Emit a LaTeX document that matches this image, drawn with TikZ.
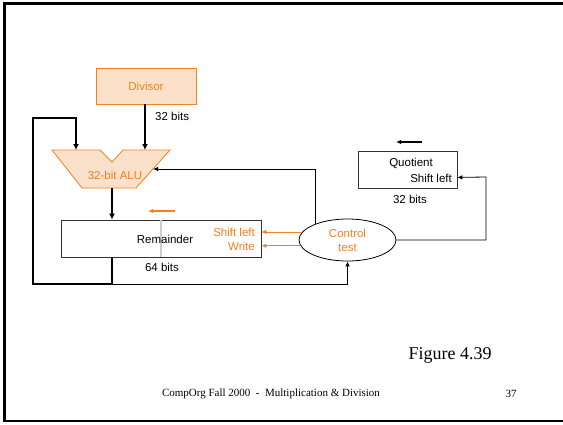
\documentclass[tikz,border=0pt]{standalone}
\usepackage{fontspec}
\setmainfont{Liberation Sans}
\newfontfamily\slideserif{Liberation Serif}
\usetikzlibrary{arrows.meta, shapes, positioning, calc}
\definecolor{dvorange}{RGB}{240,128,32}
\definecolor{dvfill}{RGB}{252,225,202}
\definecolor{regline}{RGB}{205,205,205}

\begin{document}
\begin{tikzpicture}[x=1pt, y=-1pt,
    every node/.style={font=\fontsize{11.5}{14}\selectfont, inner sep=0pt},
    reg/.style={draw=black!80, line width=0.8pt, minimum width=#1, minimum height=37pt},
    bus/.style={line width=2.7pt, -{Latex[length=6pt, width=6pt]}},
    wire/.style={line width=0.8pt, -{Latex[length=5pt, width=4.5pt]}},
    ctlwire/.style={dvorange, line width=1.2pt, -{Latex[length=5pt, width=4.5pt]}}]
    \useasboundingbox (0,0) rectangle (563,424);

    % Draw slide frame
    \draw[line width=2.8pt] (563,3.5) -- (4.5,3.5) -- (4.5,421) -- (563,421);

    % Draw divisor and ALU
    \node[draw=dvorange, fill=dvfill, line width=0.8pt, minimum width=100pt, minimum height=36pt,
          text=dvorange] (divisor) at (146,86) {Divisor};
    \node[anchor=west] (divbits) at (155,116) {32 bits};
    \draw[dvorange, fill=dvfill, line width=0.8pt] (52,150) -- (100,150) -- (112,162) -- (123,150)
        -- (170,150) -- (136,188) -- (82,188) -- cycle;
    \coordinate (alua) at (76,150);
    \coordinate (alub) at (145,150);
    \coordinate (aluout) at (112,188);
    \coordinate (aluin) at (153,169);
    \node[text=dvorange] (alulabel) at (115,175) {32-bit ALU};

    % Draw remainder register
    \node[reg=200pt] (rem) at (161,238.5) {};
    \draw[regline, line width=2pt] (rem.north) -- (rem.south);
    \node (remtxt) at (165,239) {Remainder};
    \node[anchor=east, align=right, text=dvorange] (remctl) at (255,239) {Shift left\\Write};
    \node (rembits) at (162,267) {64 bits};
    \draw[ctlwire] (175,211) -- (148,211);

    % Draw control and quotient
    \node[draw, ellipse, line width=0.8pt, minimum width=97pt, minimum height=42pt,
          align=center, text=dvorange] (ctrl) at (347.5,240) {Control\\test};
    \node[reg=99pt] (quot) at (407.5,169.5) {};
    \node (quottxt) at (411,163) {Quotient};
    \node[anchor=east] (quotctl) at (452,178) {Shift left};
    \node (quotbits) at (410,199) {32 bits};
    \draw[line width=1.4pt, -{Latex[length=5pt, width=4.5pt]}] (422,142) -- (396,142);

    % Draw the data paths
    \coordinate (loopbr) at (112,284);
    \coordinate (loopup) at (33,118);
    \coordinate (qturn) at (486,177);
    \draw[bus] (divisor.south -| alub) -- (alub);
    \draw[bus] (aluout) -- (rem.north -| aluout);
    \draw[bus] (rem.south -| aluout) -- (loopbr) -| (loopup) -| (alua);
    \draw[wire] (loopbr) -| (ctrl.south);
    \draw[wire] (ctrl.153) |- (aluin);
    \draw[ctlwire, line width=0.8pt] (ctrl.170) -- (rem.east |- ctrl.170);
    \draw[ctlwire] (ctrl.187) -- (rem.east |- ctrl.187);
    \draw[wire] (ctrl.east) -| (qturn) -- (quot.-9);

    % Footer
    \node[font=\slideserif\fontsize{18}{20}\selectfont] (fig) at (450,355) {Figure 4.39};
    \node[font=\slideserif\fontsize{11}{13}\selectfont] (footer) at (271,394)
        {CompOrg Fall 2000\ \ -\ \ Multiplication \& Division};
    \node[font=\slideserif\fontsize{11}{13}\selectfont] (pagenum) at (511,394) {37};
\end{tikzpicture}
\end{document}
